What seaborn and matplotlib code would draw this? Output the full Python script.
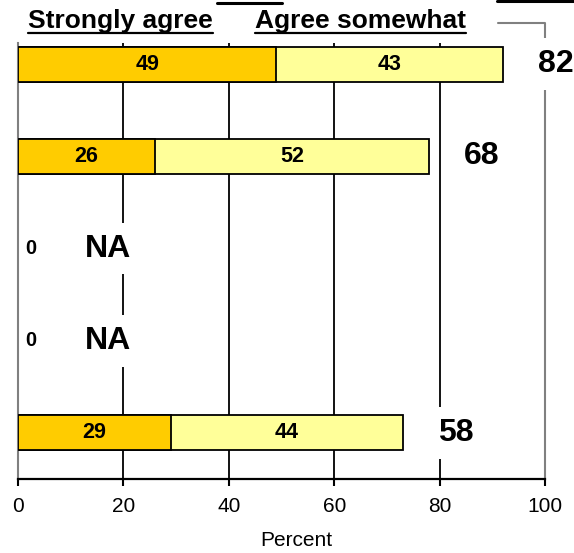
import numpy as np
import pandas as pd
import matplotlib
matplotlib.use("Agg")
import matplotlib.pyplot as plt
import matplotlib.transforms as mtransforms
from matplotlib.lines import Line2D
import seaborn as sns

# Survey rows (top to bottom); NaN marks rows with no data
rows = ["Row 1", "Row 2", "Row 3", "Row 4", "Row 5"]
strongly_agree = [49, 26, np.nan, np.nan, 29]
agree_somewhat = [43, 52, np.nan, np.nan, 44]
net_agree = [82, 68, np.nan, np.nan, 58]
x_ticks = [0, 20, 40, 60, 80, 100]
series_names = ["Strongly agree", "Agree somewhat"]

DARK = "#FFCC00"
LIGHT = "#FFFF99"
GRAY = "#808080"

sns.set_theme(style="white")
plt.rcParams["font.family"] = ["Liberation Sans", "DejaVu Sans"]
plt.rcParams["text.color"] = "black"
plt.rcParams["xtick.color"] = "black"
plt.rcParams["axes.labelcolor"] = "black"

W, H = 574, 553
fig = plt.figure(figsize=(W / 100, H / 100), dpi=100)
ax = fig.add_axes([18 / W, 74 / H, 527 / W, 436 / H])

df = pd.DataFrame({"row": rows, "strong": strongly_agree, "somewhat": agree_somewhat})
df["total"] = df["strong"] + df["somewhat"]
valid = df.dropna()

# stacked bars: full length in light yellow, strongly-agree part on top
sns.barplot(data=valid, y="row", x="total", order=rows, orient="h",
            color=LIGHT, saturation=1, edgecolor="black", linewidth=1.3,
            width=0.38, errorbar=None, ax=ax, zorder=2)
sns.barplot(data=valid, y="row", x="strong", order=rows, orient="h",
            color=DARK, saturation=1, edgecolor="black", linewidth=1.3,
            width=0.38, errorbar=None, ax=ax, zorder=3)

for v in x_ticks[1:-1]:
    ax.axvline(v, color="black", lw=1.3, zorder=1)

white_box = dict(facecolor="white", edgecolor="none", boxstyle="square,pad=0.34")
for i in range(len(rows)):
    s, a, n = strongly_agree[i], agree_somewhat[i], net_agree[i]
    if np.isnan(s):
        ax.text(2.4, i, "0", ha="center", va="center", fontsize=14.5,
                fontweight="bold", zorder=5)
        ax.text(17, i, "NA", ha="center", va="center", fontsize=23,
                fontweight="bold", bbox=white_box, zorder=5)
        continue
    ax.text(s / 2, i, f"{s:g}", ha="center", va="center", fontsize=15.5,
            fontweight="bold", zorder=5)
    ax.text(s + a / 2, i, f"{a:g}", ha="center", va="center", fontsize=15.5,
            fontweight="bold", zorder=5)
    ax.text(s + a + 10, i, f"{n:g}", ha="center", va="center", fontsize=23,
            fontweight="bold", bbox=white_box, zorder=5, clip_on=False)

ax.set_xlim(0, 100)
ax.set_ylim(4.5, -0.23)
ax.set_xticks(x_ticks)
ax.set_xticklabels([str(t) for t in x_ticks])
ax.set_xlabel("")
ax.set_ylabel("")
ax.tick_params(axis="x", bottom=True, direction="out", length=5, width=1.5,
               color="black", pad=8, labelsize=15, labelcolor="black")
ax.tick_params(axis="y", left=False, labelleft=False)

for side in ("top", "right"):
    ax.spines[side].set_visible(False)
ax.spines["left"].set_color(GRAY)
ax.spines["left"].set_linewidth(1.5)
ax.spines["bottom"].set_color("black")
ax.spines["bottom"].set_linewidth(1.6)

# gray bracket forming the right edge
blend = mtransforms.blended_transform_factory(ax.transData, ax.transAxes)
ax.plot([91, 100, 100], [1.046, 1.046, 0], transform=blend, color=GRAY,
        lw=1.5, clip_on=False, zorder=1.5)

# legend titles, underlined
fig.canvas.draw()
y_base = 1 - 28 / H
for x0, name in zip([28 / W, 255 / W], series_names):
    t = fig.text(x0, y_base, name, fontsize=19, fontweight="bold",
                 va="baseline", ha="left")
    fig.canvas.draw()
    bb = t.get_window_extent().transformed(fig.transFigure.inverted())
    fig.add_artist(Line2D([bb.x0, bb.x1], [1 - 32.5 / H] * 2,
                          color="black", lw=1.6))

fig.add_artist(Line2D([217 / W, 282 / W], [1 - 3 / H] * 2, color="black", lw=2.2))
fig.add_artist(Line2D([497 / W, 1.0], [1 - 0.8 / H] * 2, color="black", lw=2.2))

fig.text(296.7 / W, 1 - 541 / H, "Percent", fontsize=15, ha="center",
         va="center")

fig.savefig("out.png", dpi=100)
